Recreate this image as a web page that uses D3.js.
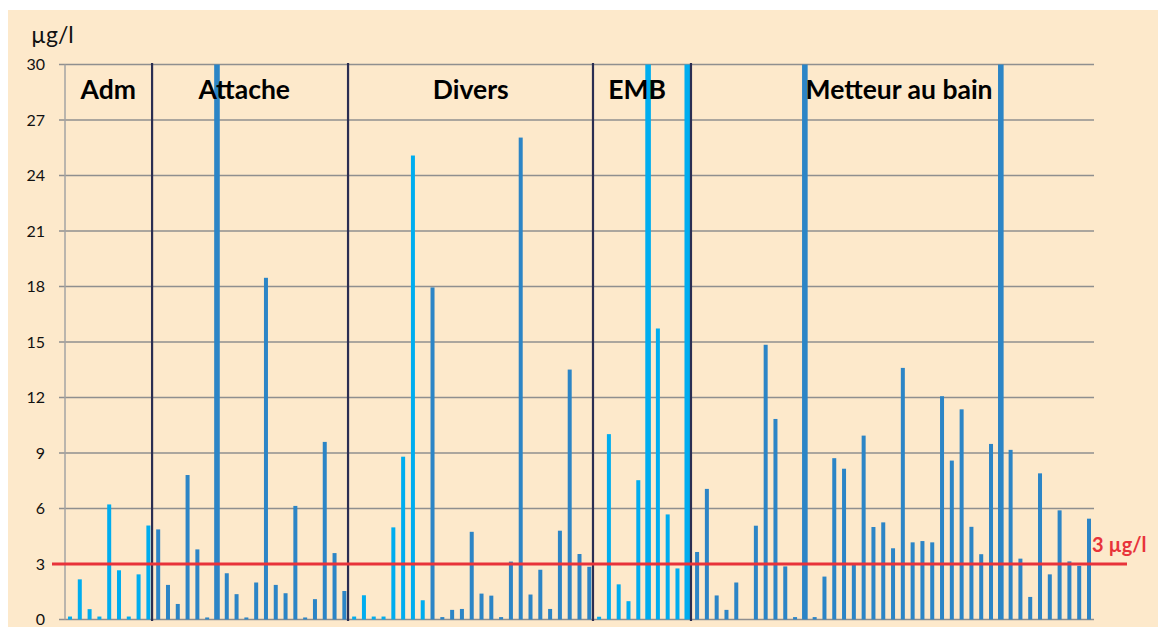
<!DOCTYPE html>
<html>
<head>
<meta charset="utf-8">
<script src="https://cdn.jsdelivr.net/npm/d3@7"></script>
<style>
  html, body { margin: 0; padding: 0; background: #ffffff; }
  svg { display: block; }
  text { font-family: Lato, "Open Sans", sans-serif; }
</style>
</head>
<body>
<svg id="chart" width="1158" height="627"></svg>
<script>
// groups (sections of the chart) and the number of samples in each
const groups = ["Adm", "Attache", "Divers", "EMB", "Metteur au bain"];
const groupSizes = [9, 20, 25, 10, 41];

// measured values in µg/l, bars above 30 are cut at the top of the axis
const admValues = [0.16, 2.17, 0.56, 0.16, 6.22, 2.66, 0.16, 2.44, 5.08];
const attacheValues = [4.87, 1.87, 0.84, 7.81, 3.79, 0.11, 30, 2.5, 1.37, 0.11,
  2.0, 18.47, 1.87, 1.42, 6.14, 0.11, 1.1, 9.6, 3.59, 1.54];
const diversValues = [0.16, 1.31, 0.16, 0.16, 4.98, 8.8, 25.08, 1.04,
  17.95, 0.13, 0.52, 0.57, 4.74, 1.4, 1.29, 0.13, 3.13, 26.05, 1.35, 2.69,
  0.57, 4.8, 13.51, 3.54, 2.85];
const embValues = [0.15, 10.02, 1.9, 0.99, 7.53, 30, 15.73, 5.68, 2.76, 30];
const metteurValues = [3.65, 7.06, 1.3, 0.52, 2.0, 0, 5.07, 14.85, 10.84, 2.87,
  0.13, 30, 0.13, 2.32, 8.72, 8.15, 2.95, 9.94, 5.0, 5.25,
  3.85, 13.6, 4.17, 4.24, 4.17, 12.07, 8.59, 11.36, 5.01, 3.53,
  9.49, 30, 9.17, 3.29, 1.22, 7.9, 2.44, 5.9, 3.14, 2.9, 5.45];

// which series each bar belongs to (A = light blue, B = dark blue)
const admSeries = Array(9).fill("A");
const attacheSeries = Array(20).fill("B");
const diversSeries = Array(8).fill("A").concat(Array(17).fill("B"));
const embSeries = Array(10).fill("A");
const metteurSeries = Array(41).fill("B");

const yTicks = [0, 3, 6, 9, 12, 15, 18, 21, 24, 27, 30];
const limit = 3;
const unit = "µg/l";

const values = [].concat(admValues, attacheValues, diversValues, embValues, metteurValues);
const series = [].concat(admSeries, attacheSeries, diversSeries, embSeries, metteurSeries);
const data = values.map((v, i) => ({ i: i, v: v, s: series[i] }));

const svg = d3.select('#chart');

// peach panel with a thin white margin on top/left
svg.append('rect').attr('x', 8).attr('y', 10).attr('width', 1150).attr('height', 617).attr('fill', '#fde9cb');

const x = d3.scaleBand().domain(d3.range(values.length)).range([65.1, 1093.9]).padding(0);
const y = d3.scaleLinear().domain([0, 30]).range([619.5, 64.5]);
const color = d3.scaleOrdinal().domain(["A", "B"]).range(["#00adef", "#2c85c6"]);

// gridlines
svg.append('g').selectAll('line').data(yTicks).join('line')
  .attr('x1', 59).attr('x2', 1094)
  .attr('y1', d => y(d)).attr('y2', d => y(d))
  .attr('stroke', '#8f8f8f').attr('stroke-width', 1.4);

// y axis labels
const yAxis = svg.append('g').attr('transform', 'translate(59,0)')
  .call(d3.axisLeft(y).tickValues(yTicks).tickSize(0).tickPadding(14));
yAxis.select('.domain').remove();
yAxis.selectAll('text').attr('font-family', 'Lato, sans-serif').attr('font-size', 16).attr('fill', '#111');

// vertical axis line
svg.append('line').attr('x1', 65).attr('x2', 65).attr('y1', y(30)).attr('y2', y(0))
  .attr('stroke', '#a3a3a3').attr('stroke-width', 1.5);

// bars
svg.append('g').selectAll('rect').data(data).join('rect')
  .attr('x', d => x(d.i) + x.bandwidth() / 2 - (d.v >= 30 ? 2.8 : 2))
  .attr('width', d => d.v >= 30 ? 5.6 : 4)
  .attr('y', d => y(Math.min(d.v, 30)))
  .attr('height', d => y(0) - y(Math.min(d.v, 30)))
  .attr('fill', d => color(d.s));

// section dividers
const starts = groupSizes.map((n, k) => d3.sum(groupSizes.slice(0, k)));
svg.append('g').selectAll('line').data(starts.slice(1)).join('line')
  .attr('x1', d => x(d) - 1.2).attr('x2', d => x(d) - 1.2)
  .attr('y1', 63).attr('y2', 621)
  .attr('stroke', '#2b2e52').attr('stroke-width', 2.2);

// section labels
const labelShift = [-1, -7, -1, -6, 6];
svg.append('g').selectAll('text').data(groups).join('text')
  .attr('x', (d, k) => {
    const a = x(starts[k]);
    const b = x(starts[k] + groupSizes[k] - 1) + x.bandwidth();
    return (a + b) / 2 + labelShift[k];
  })
  .attr('y', 99)
  .attr('text-anchor', 'middle')
  .attr('font-size', 26.5).attr('font-weight', 'bold').attr('fill', '#000')
  .text(d => d);

// limit line
svg.append('line').attr('x1', 52).attr('x2', 1127).attr('y1', y(limit)).attr('y2', y(limit))
  .attr('stroke', '#e8333a').attr('stroke-width', 3);
svg.append('text').attr('x', 1092).attr('y', 552)
  .attr('font-size', 20).attr('font-weight', 'bold').attr('fill', '#e8333a')
  .text(limit + ' ' + unit);

// unit label
svg.append('text').attr('x', 31).attr('y', 43)
  .attr('font-size', 23).attr('fill', '#111')
  .text(unit);
</script>
</body>
</html>
